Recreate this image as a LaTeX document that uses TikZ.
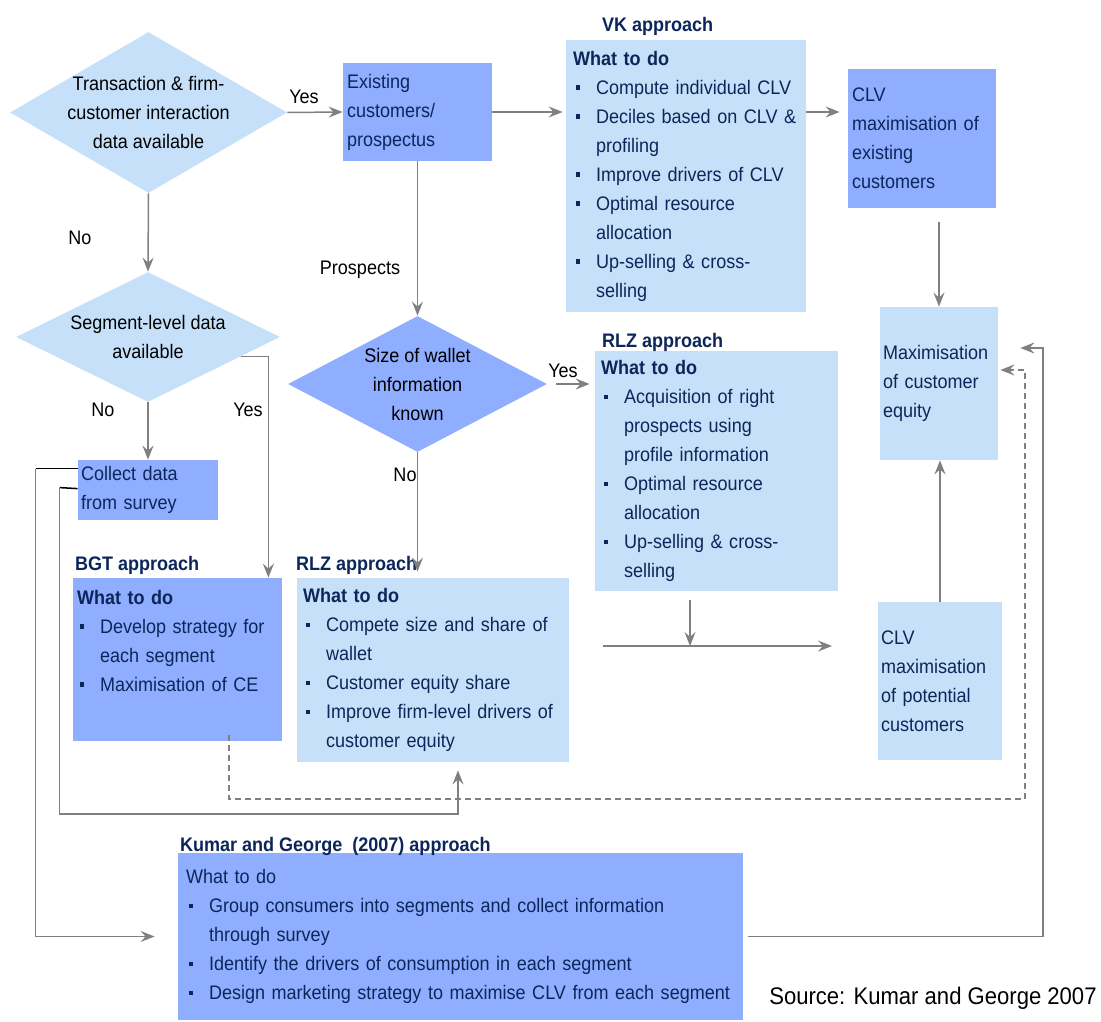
\documentclass[tikz,border=0pt]{standalone}
\usepackage{fontspec}
\setmainfont{Liberation Sans}[FakeStretch=0.92]
\usepackage{tikz}
\usetikzlibrary{shapes.geometric,arrows.meta,calc}

\definecolor{lightbox}{RGB}{198,224,250}
\definecolor{darkbox}{RGB}{144,174,255}
\definecolor{navy}{RGB}{12,38,90}
\definecolor{arrowgray}{RGB}{128,128,128}

\newcommand{\sq}{\par\noindent\hangindent=11.5pt\hangafter=1\makebox[11.5pt][l]{\hspace{1.5pt}\rule[2.2pt]{2.2pt}{2.2pt}}}

\tikzset{
  txt/.style={font=\fontsize{9.8}{14.5}\selectfont},
  lbox/.style={txt, rectangle, fill=lightbox, text=navy, align=left, inner xsep=2pt, inner ysep=0pt},
  dbox/.style={lbox, fill=darkbox},
  dia/.style={diamond, inner sep=0pt},
  dtxt/.style={txt, align=center, text=black},
  lab/.style={txt, text=black},
  ttl/.style={font=\fontsize{9.8}{14.5}\selectfont\bfseries, text=navy, anchor=base west, inner sep=0pt},
  arr/.style={->, draw=arrowgray, line width=0.75pt},
}

\begin{document}
\begin{tikzpicture}[x=0.5pt, y=-0.5pt, >={Stealth[length=7pt,width=5.5pt,inset=2.5pt]}]
\useasboundingbox (0,0) rectangle (1101,1021);

\node[dia, fill=lightbox, minimum width=138.5pt, minimum height=80.5pt, label={[dtxt]center:{Transaction \& firm-\\customer interaction\\data available}}] (trans) at (148.5,112.5) {};
\node[dia, fill=lightbox, minimum width=132pt, minimum height=65pt, label={[dtxt]center:{Segment-level data\\available}}] (seg) at (148,337) {};
\node[dia, fill=darkbox, minimum width=129.5pt, minimum height=68pt, label={[dtxt]center:{Size of wallet\\information\\known}}] (wallet) at (417.5,384) {};

\node[dbox, minimum width=74.5pt, minimum height=49pt, text width=70.5pt] (exist) at (417.5,112) {Existing\\customers/\\prospectus};
\node[lbox, inner xsep=3.5pt, minimum width=120pt, minimum height=136pt, text width=113pt] (vk) at (686,176) {\textbf{What to do}\sq Compute individual CLV\sq Deciles based on CLV \&\newline profiling\sq Improve drivers of CLV\sq Optimal resource\newline allocation\sq Up-selling \& cross-\newline selling\par};
\node[dbox, minimum width=74pt, minimum height=69.5pt, text width=70pt] (clvex) at (922,138.5) {CLV\\maximisation of\\existing\\customers};
\node[lbox, inner xsep=1.5pt, minimum width=59pt, minimum height=76.5pt, text width=56pt] (maxce) at (939,383.5) {Maximisation\\of customer\\equity};
\node[lbox, inner xsep=1.5pt, minimum width=62pt, minimum height=79pt, text width=59pt] (clvpot) at (940,681) {CLV\\maximisation\\of potential\\customers};
\node[dbox, inner xsep=1.5pt, minimum width=70pt, minimum height=30pt, text width=67pt] (collect) at (148,490) {Collect data\\from survey};
\node[dbox, minimum width=104.5pt, minimum height=81.5pt, text width=100.5pt] (bgt) at (177.5,659.5) {\textbf{What to do}\sq Develop strategy for\newline each segment\sq Maximisation of CE\par\vspace*{19pt}};
\node[lbox, inner xsep=3pt, minimum width=121.5pt, minimum height=120pt, text width=115.5pt] (rlz1) at (716.5,471) {\textbf{What to do}\sq Acquisition of right\newline prospects using\newline profile information\sq Optimal resource\newline allocation\sq Up-selling \& cross-\newline selling\par};
\node[lbox, inner xsep=3pt, minimum width=136pt, minimum height=92pt, text width=130pt] (rlz2) at (433,670) {\textbf{What to do}\sq Compete size and share of\newline wallet\sq Customer equity share\sq Improve firm-level drivers of\newline customer equity\par};
\node[dbox, inner xsep=4pt, minimum width=282.5pt, minimum height=83.5pt, text width=274.5pt] (kumar) at (460.5,936.5) {What to do\sq Group consumers into segments and collect information\newline through survey\sq Identify the drivers of consumption in each segment\sq Design marketing strategy to maximise CLV from each segment\par};

\node[ttl] (vkt) at ($(vk.north west)+(36,-8)$) {VK approach};
\node[ttl] (rlz1t) at ($(rlz1.north west)+(7,-3)$) {RLZ approach};
\node[ttl] (rlz2t) at ($(rlz2.north west)+(-1,-7)$) {RLZ approach};
\node[ttl] (bgtt) at ($(bgt.north west)+(2,-7)$) {BGT approach};
\node[ttl] (kumart) at ($(kumar.north west)+(2,-1)$) {Kumar and George~~(2007) approach};

\node[lab] (yes1) at (304,97) {Yes};
\node[lab] (no1) at (80,238) {No};
\node[lab] (prosp) at (360,270) {Prospects};
\node[lab] (no2) at (103,410) {No};
\node[lab] (yes2) at (248,410) {Yes};
\node[lab] (yes3) at (563,371) {Yes};
\node[lab] (no3) at (405,475) {No};
\node[lab, font=\fontsize{12}{14}\selectfont, anchor=east, inner sep=0pt] (src) at (1097,998) {Source: Kumar and George 2007};

\coordinate (hstart) at (603,646);
\coordinate (hjoin) at (690,646);
\coordinate (hend) at (832,646);
\coordinate (loopb) at (458,814);
\coordinate (loopd) at (1025,799);
\coordinate (loopk) at (1043,936.5);

\draw[arr] (trans.east) -- (exist.west);
\draw[arr, shorten >=1.5pt] (exist.east) -- (vk.west |- exist.east);
\draw[arr, shorten >=4pt] (vk.east |- exist.east) -- (clvex.west |- exist.east);
\draw[arr] ($(clvex.south -| maxce.north)+(0,14)$) -- (maxce.north);
\draw[arr] (clvpot.north) -- (clvpot.north |- maxce.south);
\draw[arr] (trans.south) -- (seg.north);
\draw[arr] (exist.south) -- (wallet.north);
\draw[arr] ($(wallet.east)+(9,0)$) -- ($(rlz1.west |- wallet.east)+(-5,0)$);
\draw[arr] (wallet.south) -- ($(wallet.south |- rlz2.north)+(0,-6)$);
\draw[arr] (seg.south) -- (collect.north);
\draw[arr] ($(seg.east)!0.3!(seg.south)$) -| ($(bgt.north east)+(-14,0)$);
\draw[arr] ($(rlz1.south -| hjoin)+(0,9)$) -- (hjoin);
\draw[arr] (hstart) -- (hend);
\draw[black, line width=0.75pt] ($(collect.north west)+(0,9)$) -- ++(-42,0) coordinate (ka);
\draw[arr] (ka) |- ($(kumar.west)+(-23,0)$);
\draw[black, line width=0.75pt] ($(collect.north west)+(0,29)$) -- ++(-18,-1) coordinate (kb);
\draw[arr] (kb) |- (loopb) -- ($(rlz2.south -| loopb)+(0,8)$);
\draw[arr, dashed, dash pattern=on 3pt off 2pt] ($(bgt.south)+(51.5,-6)$) |- (loopd) |- ($(maxce.east)+(2,-13.5)$);
\draw[arr] ($(kumar.east)+(5,0)$) -- (loopk) |- ($(maxce.east)+(22,-35.5)$);
\end{tikzpicture}
\end{document}
